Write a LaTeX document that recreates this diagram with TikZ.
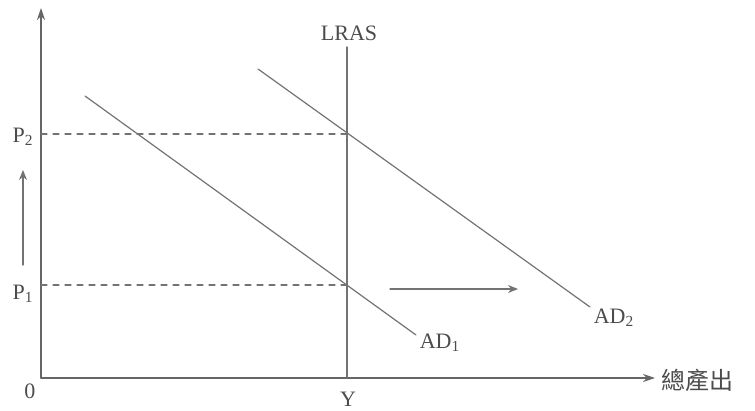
\documentclass[tikz,border=0pt]{standalone}
\usepackage{fontspec}
\setmainfont{Liberation Serif}
\newfontfamily\cjkfont{Noto Sans CJK TC}
\usepackage{tikz}
\usetikzlibrary{arrows.meta}

\tikzset{
  axisline/.style={black!60,line width=0.7pt},
  curveline/.style={black!55,line width=0.6pt},
  guideline/.style={black!55,dashed,dash pattern=on 3pt off 3pt,line width=0.6pt},
  shiftarrow/.style={black!55,line width=0.6pt,-{Stealth[length=5pt,width=4pt]}},
  lbl/.style={text=black!70,inner sep=0pt}
}

\begin{document}
\begin{tikzpicture}[x=0.5pt,y=-0.5pt,font=\fontsize{11}{13}\selectfont,line cap=round]
\useasboundingbox (0,0) rectangle (755,411);
% axes
\coordinate (origin) at (41,378);
\coordinate (ytop) at (41,8);
\coordinate (xend) at (655,378);
\draw[axisline,-{Stealth[length=6pt,width=4pt]}] (origin) -- (ytop);
\draw[axisline,-{Stealth[length=6pt,width=4pt]}] (origin) -- (xend);
\node[lbl,font=\cjkfont\fontsize{12}{14}\selectfont,anchor=west] (output) at (661,380) {總產出};
\node[lbl] (zero) at (30,391) {0};
% long run supply
\coordinate (ybase) at (347,378);
\coordinate (lrastop) at (347,47);
\draw[curveline] (ybase) -- (lrastop);
\node[lbl] (lras) at (349,33) {LRAS};
\node[lbl] (ylbl) at (348,399) {Y};
% demand curves
\coordinate (ad1a) at (85,96);
\coordinate (ad1b) at (416,335);
\coordinate (ad2a) at (258,69);
\coordinate (ad2b) at (590,307);
\draw[curveline] (ad1a) -- (ad1b);
\draw[curveline] (ad2a) -- (ad2b);
\node[lbl] (ad1) at (440,343) {AD\textsubscript{1}};
\node[lbl] (ad2) at (614,318) {AD\textsubscript{2}};
% equilibrium prices
\coordinate (e1) at (347,285);
\coordinate (e2) at (347,134);
\coordinate (p1y) at (41,285);
\coordinate (p2y) at (41,134);
\draw[guideline] (p1y) -- (e1);
\draw[guideline] (p2y) -- (e2);
\node[lbl] (p1) at (23,294) {P\textsubscript{1}};
\node[lbl] (p2) at (23,137) {P\textsubscript{2}};
% shifts
\coordinate (upa) at (23,265);
\coordinate (upb) at (23,170);
\draw[shiftarrow] (upa) -- (upb);
\coordinate (ra) at (390,289);
\coordinate (rb) at (518,289);
\draw[shiftarrow] (ra) -- (rb);
\end{tikzpicture}
\end{document}
